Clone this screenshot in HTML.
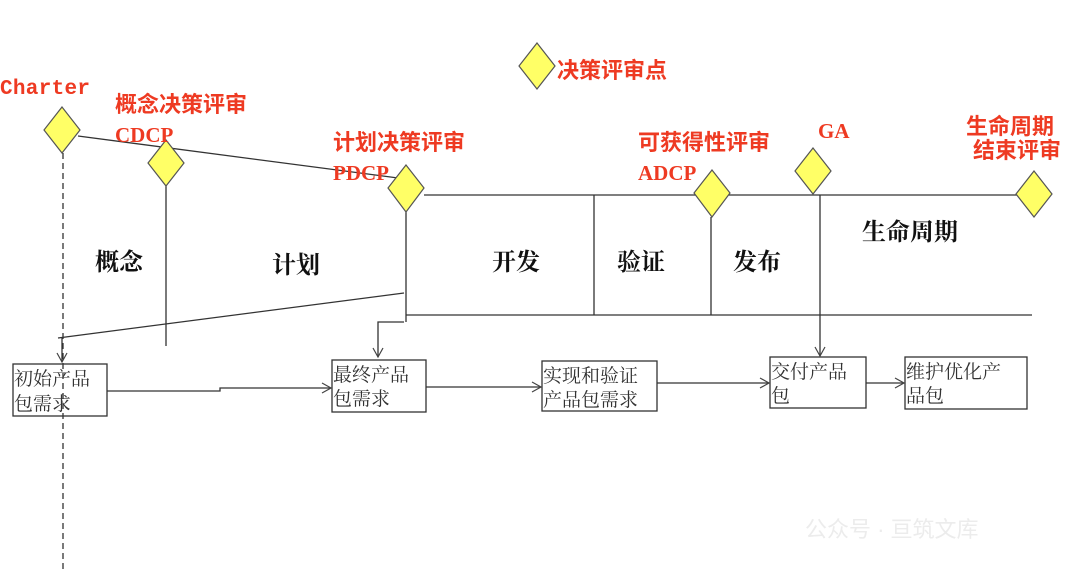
<!DOCTYPE html>
<html><head><meta charset="utf-8"><style>
html,body{margin:0;padding:0;background:#fff;}
svg{display:block;}
.r{fill:#ee3a22;font-family:"Liberation Mono","Noto Sans CJK SC",monospace;font-size:21px;font-weight:bold;}
.rc{fill:#ee3a22;font-family:"Liberation Sans","Noto Sans CJK SC",sans-serif;font-size:22px;font-weight:bold;}
.rl{fill:#ee3a22;font-family:"Liberation Serif","Noto Serif CJK SC",serif;font-size:21px;font-weight:bold;}
.p{fill:#111;font-family:"Liberation Serif","Noto Serif CJK SC",serif;font-size:24px;font-weight:bold;}
.b{fill:#333;font-family:"Liberation Serif","Noto Serif CJK SC",serif;font-size:19px;}
</style></head><body>
<svg width="1080" height="571" viewBox="0 0 1080 571" xmlns="http://www.w3.org/2000/svg">
<defs><marker id="a" markerWidth="12" markerHeight="12" refX="10" refY="6" orient="auto" markerUnits="userSpaceOnUse"><path d="M1,1 L10,6 L1,11" fill="none" stroke="#444" stroke-width="1.2"/></marker></defs>
<g stroke="#333" stroke-width="1.3" fill="none">
<line x1="78" y1="136" x2="398" y2="178"/>
<line x1="424" y1="195" x2="1017" y2="195"/>
<line x1="406" y1="212" x2="406" y2="322"/>
<line x1="166" y1="186" x2="166" y2="346"/>
<line x1="594" y1="195" x2="594" y2="315"/>
<line x1="711" y1="217" x2="711" y2="315"/>
<line x1="406" y1="315" x2="1032" y2="315"/>
<line x1="58" y1="338" x2="404" y2="293"/>
<line x1="63" y1="153" x2="63" y2="571" stroke-dasharray="6,4"/>
<line x1="62" y1="338" x2="62" y2="362" marker-end="url(#a)"/>
<polyline points="404,322 378,322 378,357" marker-end="url(#a)"/>
<line x1="820" y1="195" x2="820" y2="356" marker-end="url(#a)"/>
<polyline points="107,391 220,391 220,388 331,388" marker-end="url(#a)"/>
<line x1="426" y1="387" x2="541" y2="387" marker-end="url(#a)"/>
<line x1="657" y1="383" x2="769" y2="383" marker-end="url(#a)"/>
<line x1="866" y1="383" x2="904" y2="383" marker-end="url(#a)"/>
<rect x="13" y="364" width="94" height="52"/>
<rect x="332" y="360" width="94" height="52"/>
<rect x="542" y="361" width="115" height="50"/>
<rect x="770" y="357" width="96" height="51"/>
<rect x="905" y="357" width="122" height="52"/>
</g>
<g fill="#ffff66" stroke="#555" stroke-width="1.2">
<path d="M62,107 L80,130 L62,153 L44,130Z"/>
<path d="M166,140 L184,163 L166,186 L148,163Z"/>
<path d="M406,165 L424,188 L406,212 L388,188Z"/>
<path d="M537,43 L555,66 L537,89 L519,66Z"/>
<path d="M712,170 L730,193 L712,217 L694,193Z"/>
<path d="M813,148 L831,171 L813,194 L795,171Z"/>
<path d="M1034,171 L1052,194 L1034,217 L1016,194Z"/>
</g>
<text class="r" x="0" y="94" textLength="90">Charter</text>
<text class="rc" x="115" y="112">概念决策评审</text>
<text class="rl" x="115" y="142">CDCP</text>
<text class="rc" x="333" y="150">计划决策评审</text>
<text class="rl" x="333" y="180">PDCP</text>
<text class="rc" x="557" y="78">决策评审点</text>
<text class="rc" x="638" y="150">可获得性评审</text>
<text class="rl" x="638" y="180">ADCP</text>
<text class="rl" x="818" y="138">GA</text>
<text class="rc" x="966" y="134">生命周期</text>
<text class="rc" x="973" y="158">结束评审</text>
<text class="p" x="95" y="270">概念</text>
<text class="p" x="272" y="273">计划</text>
<text class="p" x="492" y="270">开发</text>
<text class="p" x="617" y="270">验证</text>
<text class="p" x="733" y="270">发布</text>
<text class="p" x="862" y="240">生命周期</text>
<text class="b" x="14" y="385">初始产品</text><text class="b" x="14" y="410">包需求</text>
<text class="b" x="333" y="381">最终产品</text><text class="b" x="333" y="405">包需求</text>
<text class="b" x="543" y="382">实现和验证</text><text class="b" x="543" y="406">产品包需求</text>
<text class="b" x="771" y="378">交付产品</text><text class="b" x="771" y="402">包</text>
<text class="b" x="906" y="378">维护优化产</text><text class="b" x="906" y="402">品包</text>
<text x="805" y="537" fill="#ececec" font-family="Liberation Sans,Noto Sans CJK SC,sans-serif" font-size="22">公众号 · 亘筑文库</text>
</svg>
</body></html>
